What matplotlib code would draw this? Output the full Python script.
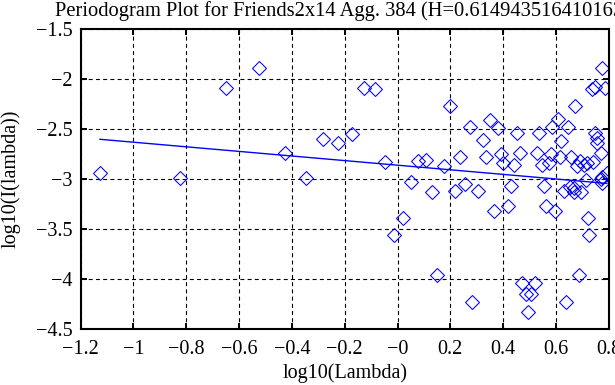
import numpy as np
import matplotlib
matplotlib.use('Agg')
import matplotlib.pyplot as plt

# periodogram points, log10(lambda) vs log10(I(lambda))
log_lambda = [-1.127, -0.824, -0.649, -0.524, -0.426, -0.347, -0.281, -0.224, -0.173, -0.126, -0.085,
              -0.046, -0.012, 0.022, 0.050, 0.076, 0.107, 0.131, 0.151, 0.177, 0.197,
              0.216, 0.237, 0.254, 0.273, 0.283, 0.304, 0.323, 0.336, 0.351, 0.364,
              0.380, 0.392, 0.401, 0.420, 0.431, 0.443, 0.453, 0.465, 0.473, 0.487,
              0.496, 0.505, 0.519, 0.530, 0.535, 0.548, 0.554, 0.562, 0.572, 0.581,
              0.587, 0.597, 0.606, 0.614, 0.621, 0.629, 0.638, 0.644, 0.654, 0.657,
              0.667, 0.670, 0.674, 0.680, 0.686, 0.692, 0.695, 0.707, 0.714, 0.717,
              0.720, 0.725, 0.736, 0.740, 0.748, 0.749, 0.755, 0.757, 0.770, 0.770,
              0.774, 0.775, 0.775, 0.785, 0.793]
log_I = [-2.94, -2.984, -2.09, -1.884, -2.734, -2.984, -2.60, -2.637, -2.547, -2.084, -2.10,
         -2.83, -3.56, -3.387, -3.03, -2.817, -2.807, -3.127, -3.96, -2.864, -2.267,
         -3.117, -2.78, -3.05, -2.474, -4.224, -3.114, -2.607, -2.78, -2.407, -3.317,
         -2.49, -2.75, -2.84, -3.264, -3.064, -2.857, -2.537, -2.734, -4.04, -4.147,
         -4.324, -4.147, -4.04, -2.734, -2.537, -2.857, -3.064, -3.264, -2.84, -2.75,
         -2.48, -3.317, -2.40, -2.78, -2.614, -3.117, -4.224, -2.474, -3.074, -2.78,
         -3.09, -3.124, -2.267, -2.864, -3.96, -2.814, -3.127, -2.857, -3.012, -2.84,
         -3.39, -3.56, -2.097, -2.824, -2.534, -2.08, -2.59, -2.634, -2.74, -3.00,
         -1.89, -2.974, -3.04, -2.09, -2.937]

H = 0.614943516410163
slope = 1 - 2 * H
intercept = -2.859

xticks = np.arange(-1.2, 0.81, 0.2)
yticks = np.arange(-4.5, -1.49, 0.5)


def fmt(v):
    return ('%g' % round(v, 1)).replace('-', '\u2212')


plt.rcParams['font.family'] = ['Liberation Serif', 'DejaVu Serif']
plt.rcParams['font.size'] = 14.5

fig = plt.figure(figsize=(6.15, 3.85), dpi=100)
ax = fig.add_axes([0.1312, 0.1447, 0.8586, 0.7792])

ax.plot(log_lambda, log_I, linestyle='none', marker='D', markersize=7,
        markerfacecolor='none', markeredgecolor='blue', markeredgewidth=0.75)
xs = np.array([min(log_lambda), max(log_lambda)])
ax.plot(xs, intercept + slope * xs, color='blue', linewidth=1.0)

ax.set_xlim(-1.2, 0.8)
ax.set_ylim(-4.5, -1.5)
ax.set_xticks(xticks)
ax.set_yticks(yticks)
ax.set_xticklabels([fmt(v) for v in xticks])
ax.set_yticklabels([fmt(v) for v in yticks])
ax.grid(True, color='black', linestyle=(0, (3.6, 2.9)), linewidth=0.8)
ax.tick_params(axis='both', direction='in', top=True, right=True, length=4.5, width=1.4)
ax.tick_params(axis='x', pad=8)
ax.tick_params(axis='y', pad=6)
for s in ax.spines.values():
    s.set_linewidth(1.5)

ax.set_xlabel('log10(Lambda)', labelpad=3)
ax.set_ylabel('log10(I(lambda))', labelpad=11)
fig.text(55 / 615, 1 - 11 / 385, 'Periodogram Plot for Friends2x14 Agg. 384 (H=%.15f)' % H,
         ha='left', va='center', fontsize=14.8)

fig.savefig('out.png', dpi=100)
